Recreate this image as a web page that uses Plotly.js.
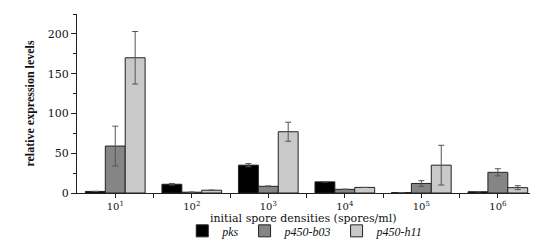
<!DOCTYPE html>
<html><head><meta charset="utf-8">
<script src="https://cdn.plot.ly/plotly-3.0.1.min.js"></script>
<style>html,body{margin:0;padding:0;background:#fff}#c{width:550px;height:243px}</style>
</head><body><div id="c"></div>
<script>
const categories = ["10<sup>1</sup>","10<sup>2</sup>","10<sup>3</sup>","10<sup>4</sup>","10<sup>5</sup>","10<sup>6</sup>"];
const seriesNames = ["pks","p450-b03","p450-h11"];
const xTitle = "initial spore densities (spores/ml)";
const yTitle = "relative expression levels";
const pks = [2, 11, 35, 14, 0.5, 1.6];
const pksErr = [0, 1, 2, 0, 0, 0];
const b03 = [59, 1, 8.4, 4.6, 12, 26];
const b03Err = [25, 0, 0.5, 0, 3.5, 4.5];
const h11 = [170, 3.5, 77, 7, 35, 6.7];
const h11Err = [33, 0, 12, 0, 25, 2.5];
const colors = ["#000000","#858585","#c9c9c9"];

const idx = categories.map((c,i)=>i);
const vals = [pks,b03,h11], errs=[pksErr,b03Err,h11Err];
const traces = vals.map((v,k)=>({
  type:"bar", x:idx, y:v, name:"<i>"+seriesNames[k]+"</i>",
  marker:{color:colors[k], line:{color:"#222", width:1}},
  error_y:{type:"data", array:errs[k], visible:true, color:"#555", thickness:1, width:3}
}));
const serif = "Liberation Serif, Times New Roman, serif";
Plotly.newPlot("c", traces, {
  width:550, height:243,
  margin:{l:77, r:20, t:14, b:50},
  barmode:"group", bargap:0.22, bargroupgap:0,
  paper_bgcolor:"#fff", plot_bgcolor:"#fff",
  showlegend:true,
  legend:{orientation:"h", x:0.555, xref:"container", xanchor:"center", yref:"container", y:0.05, yanchor:"middle",
    font:{family:serif, size:12, color:"#111"}, traceorder:"normal", itemwidth:30},
  annotations:[{text:xTitle, xref:"paper", yref:"paper", x:0.5, y:-0.14, xanchor:"center", yanchor:"middle",
    showarrow:false, font:{family:"DejaVu Serif, serif", size:11, color:"#111"}}],
  xaxis:{range:[-0.5,5.42], automargin:false, tickvals:idx, ticktext:categories, showline:true, linecolor:"#222", linewidth:1,
    ticks:"outside", ticklen:4, tickcolor:"#222", showgrid:false, zeroline:false,
    minor:{tickvals:[0.5,1.5,2.5,3.5,4.5], ticks:"outside", ticklen:4, tickcolor:"#222"},
    tickfont:{family:"DejaVu Serif, serif", size:10, color:"#111"}},
  yaxis:{range:[0,225], automargin:false, dtick:50, showline:true, linecolor:"#222", linewidth:1, ticks:"outside", ticklen:5, tickcolor:"#222",
    minor:{dtick:25, ticks:"outside", ticklen:3, tickcolor:"#222"},
    showgrid:false, zeroline:false,
    tickfont:{family:"DejaVu Serif, serif", size:11, color:"#111"},
    title:{text:yTitle, standoff:10, font:{family:serif, size:12, color:"#111", weight:"bold"}}}
}, {displayModeBar:false, staticPlot:true});
</script></body></html>
